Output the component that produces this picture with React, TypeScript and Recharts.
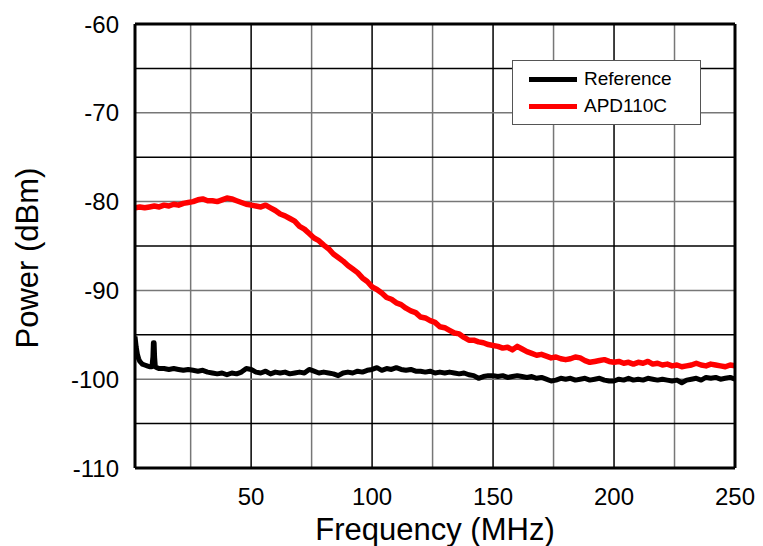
import React from 'react';
import { LineChart, Line, XAxis, YAxis, ReferenceLine } from 'recharts';

// Frequency grid shared by the APD110C trace (MHz)
const freqStep2: number[] = [];
for (let f = 2; f <= 250; f += 2) freqStep2.push(f);

// APD110C noise spectrum (dBm), one value per 2 MHz from 2 to 250
const apdPower = [
  -80.7, -80.6, -80.7, -80.6, -80.5, -80.6, -80.4, -80.5, -80.3, -80.4,
  -80.2, -80.1, -80.0, -79.8, -79.7, -79.9, -79.9, -80.0, -79.8, -79.6,
  -79.7, -79.9, -80.1, -80.3, -80.4, -80.5, -80.6, -80.4, -80.7, -81.0,
  -81.4, -81.6, -81.9, -82.2, -82.8, -83.1, -83.6, -84.1, -84.4, -84.9,
  -85.3, -85.9, -86.3, -86.7, -87.2, -87.6, -88.0, -88.6, -89.0, -89.6,
  -89.9, -90.3, -90.8, -91.0, -91.4, -91.6, -92.0, -92.3, -92.5, -93.0,
  -93.1, -93.4, -93.6, -94.1, -94.2, -94.5, -94.8, -94.9, -95.3, -95.6,
  -95.6, -95.8, -95.9, -96.1, -96.2, -96.3, -96.5, -96.4, -96.7, -96.3,
  -96.6, -96.9, -97.1, -97.3, -97.2, -97.4, -97.6, -97.5, -97.7, -97.8,
  -97.7, -97.5, -97.6, -97.9, -98.1, -98.0, -97.9, -97.8, -98.0, -98.1,
  -98.0, -98.2, -98.1, -98.3, -98.1, -98.2, -98.0, -98.3, -98.2, -98.4,
  -98.3, -98.5, -98.4, -98.6, -98.5, -98.4, -98.2, -98.4, -98.5, -98.3,
  -98.4, -98.5, -98.6, -98.4, -98.5,
];

// Reference trace: finer sampling near DC and the ~10 MHz spur, then 2 MHz steps from 14
const refHeadFreq = [2, 2.5, 3, 3.5, 4, 5, 6, 7, 8, 9, 9.4, 9.6, 9.9, 10.1, 10.4, 11, 12];
const refHeadPower = [
  -95.2, -96.4, -97.2, -97.7, -98.0, -98.3, -98.4, -98.5, -98.6, -98.6,
  -97.5, -95.9, -95.9, -97.5, -98.6, -98.7, -98.8,
];
const refTailPower = [
  -98.8, -98.9, -98.8, -98.9, -99.0, -98.9, -99.0, -99.1, -99.0,
  -99.2, -99.3, -99.4, -99.3, -99.5, -99.3, -99.4, -99.2, -98.8, -98.9,
  -99.2, -99.3, -99.1, -99.4, -99.2, -99.3, -99.2, -99.4, -99.3, -99.2,
  -99.3, -98.9, -99.1, -99.3, -99.2, -99.3, -99.4, -99.6, -99.3, -99.2,
  -99.3, -99.1, -99.2, -99.0, -98.9, -98.7, -99.0, -98.8, -98.9, -98.7,
  -98.9, -99.0, -98.9, -99.1, -99.1, -99.2, -99.1, -99.3, -99.2, -99.3,
  -99.2, -99.3, -99.4, -99.3, -99.5, -99.6, -99.9, -99.7, -99.6, -99.6,
  -99.7, -99.6, -99.8, -99.7, -99.6, -99.7, -99.8, -99.7, -99.9, -99.8,
  -100.0, -100.2, -100.1, -99.9, -100.0, -99.9, -100.1, -100.0, -99.9, -100.1,
  -100.0, -99.9, -100.1, -100.2, -100.2, -100.0, -100.1, -99.9, -100.1, -100.0,
  -100.1, -99.9, -100.0, -100.1, -100.0, -100.1, -100.2, -100.1, -100.4, -100.1,
  -100.0, -99.9, -100.1, -99.8, -99.9, -99.8, -100.0, -99.9, -99.8, -100.0,
];

const xTicks = [50, 100, 150, 200, 250];
const yTicks = [-110, -100, -90, -80, -70, -60];
const gridFreq = [25, 50, 75, 100, 125, 150, 175, 200, 225];
const gridPower = [-65, -70, -75, -80, -85, -90, -95, -100, -105];

const refFreq = refHeadFreq.concat(freqStep2.filter((f) => f >= 14));
const refPower = refHeadPower.concat(refTailPower);

const refData = refFreq.map((f, i) => ({ freq: f, power: refPower[i] }));
const apdData = freqStep2.map((f, i) => ({ freq: f, power: apdPower[i] }));

const FONT = 'Liberation Sans, Arial, sans-serif';

const legendItems = [
  { name: 'Reference', color: '#000000' },
  { name: 'APD110C', color: '#ff0000' },
];

const LegendBox = () => (
  <div
    style={{
      position: 'absolute',
      left: 512,
      top: 60,
      width: 187,
      height: 63,
      border: '1px solid #555',
      background: '#fff',
      fontFamily: FONT,
      fontSize: 19,
    }}
  >
    {legendItems.map((item, i) => (
      <div
        key={item.name}
        style={{ position: 'absolute', left: 16, top: 7 + i * 27, display: 'flex', alignItems: 'center', height: 22 }}
      >
        <span style={{ display: 'inline-block', width: 48, height: 5, background: item.color, marginRight: 7 }} />
        <span style={{ color: '#000' }}>{item.name}</span>
      </div>
    ))}
  </div>
);

const App: React.FC = () => {
  return (
    <div style={{ position: 'absolute', left: 0, top: 0, width: 763, height: 546, background: '#fff' }}>
      <LineChart width={763} height={546} margin={{ top: 24, right: 28, bottom: 0, left: 0 }}>
        <XAxis
          dataKey="freq"
          type="number"
          domain={[2, 250]}
          ticks={xTicks}
          allowDataOverflow
          axisLine={false}
          tickLine={false}
          tickMargin={14}
          height={78}
          tick={{ fontSize: 24, fill: '#000', fontFamily: FONT }}
          label={{ value: 'Frequency (MHz)', position: 'insideBottom', offset: 6, fontSize: 31, fill: '#000', fontFamily: FONT }}
        />
        <YAxis
          type="number"
          domain={[-110, -60]}
          ticks={yTicks}
          axisLine={false}
          tickLine={false}
          tickMargin={10}
          width={135}
          tick={{ fontSize: 24, fill: '#000', fontFamily: FONT }}
          label={{ value: 'Power (dBm)', angle: -90, position: 'insideLeft', offset: 27, dy: 12, fontSize: 31, fill: '#000', fontFamily: FONT, style: { textAnchor: 'middle' } }}
        />
        {gridFreq.map((f) => (
          <ReferenceLine key={'gx' + f} x={f} stroke={f % 50 === 0 ? '#000' : '#777'} strokeWidth={1.5} />
        ))}
        {gridPower.map((p) => (
          <ReferenceLine key={'gy' + p} y={p} stroke={p % 10 === 0 ? '#777' : '#000'} strokeWidth={1.5} />
        ))}
        <Line
          data={refData}
          dataKey="power"
          name="Reference"
          stroke="#000"
          strokeWidth={5}
          dot={false}
          strokeLinejoin="round"
          isAnimationActive={false}
        />
        <Line
          data={apdData}
          dataKey="power"
          name="APD110C"
          stroke="#ff0000"
          strokeWidth={5.5}
          dot={false}
          strokeLinejoin="round"
          isAnimationActive={false}
        />
        <ReferenceLine x={2} stroke="#000" strokeWidth={3} />
        <ReferenceLine x={250} stroke="#000" strokeWidth={3} />
        <ReferenceLine y={-60} stroke="#000" strokeWidth={3} />
        <ReferenceLine y={-110} stroke="#000" strokeWidth={3} />
      </LineChart>
      <LegendBox />
    </div>
  );
};

export default App;
